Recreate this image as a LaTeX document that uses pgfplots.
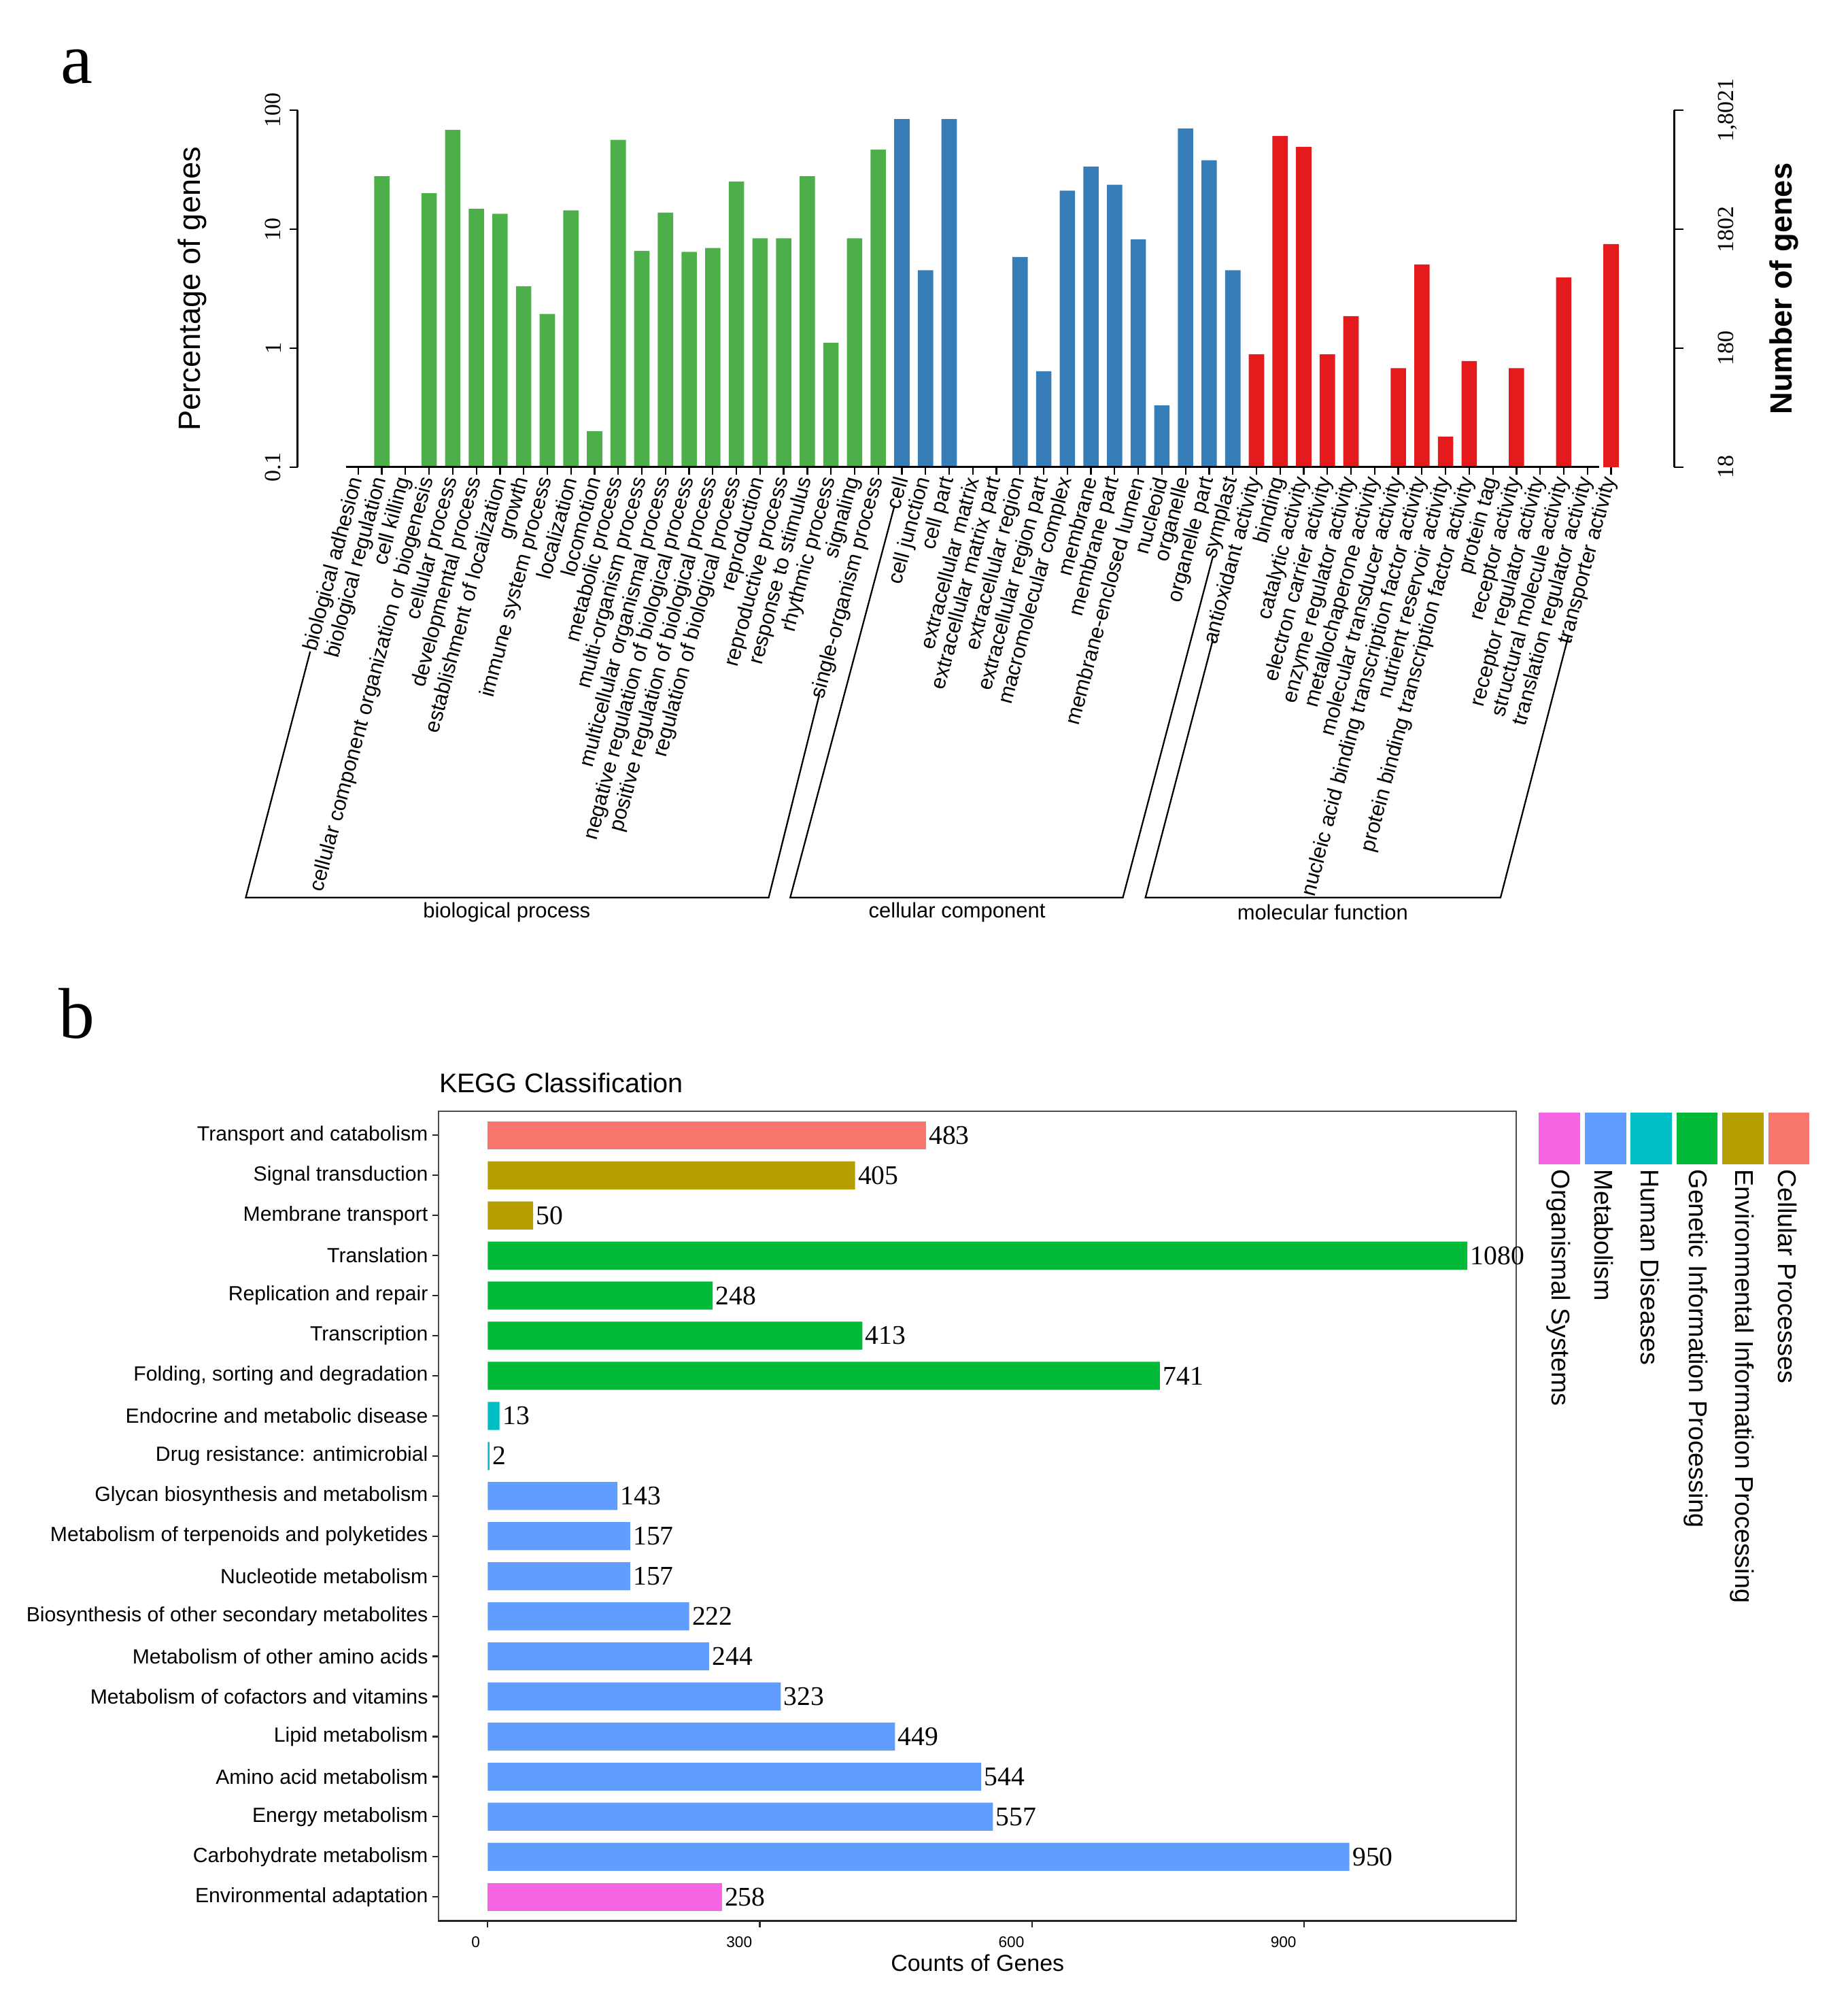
\documentclass[border=0pt]{standalone}
\usepackage{fontspec}
\setmainfont{Liberation Sans}
\newfontfamily\serif{Liberation Serif}
\usepackage{pgfplots}
\pgfplotsset{compat=1.18}

\definecolor{gogreen}{HTML}{4DAF4A}
\definecolor{goblue}{HTML}{377EB8}
\definecolor{gored}{HTML}{E41A1C}
\definecolor{kcell}{HTML}{F8766D}
\definecolor{kenv}{HTML}{B79F00}
\definecolor{kgen}{HTML}{00BA38}
\definecolor{khum}{HTML}{00BFC4}
\definecolor{kmet}{HTML}{619CFF}
\definecolor{korg}{HTML}{F564E3}

\begin{document}
\begin{tikzpicture}
\path[use as bounding box] (0,0) rectangle (720pt,-783.6pt);

% ---------- panel a: GO classification ----------
\node[font=\serif\fontsize{28}{30}\selectfont] at (30pt,-26pt) {a};

\begin{axis}[
  at={(116pt,-182pt)}, anchor=south west,
  scale only axis, width=536.5pt, height=139pt,
  xmin=-1.562, xmax=56.67,
  ymode=log, ymin=0.1, ymax=100, log origin=infty,
  axis x line*=bottom, axis y line*=left,
  x axis line style={draw=none},
  y axis line style={line width=0.8pt},
  tick align=outside, major tick length=3pt,
  tick style={black, line width=0.6pt},
  yminorticks=false,
  xtick={1,...,54},
  xticklabels={biological adhesion, biological regulation, cell killing,
    cellular component organization or biogenesis, cellular process,
    developmental process, establishment of localization, growth,
    immune system process, localization, locomotion, metabolic process,
    multi-organism process, multicellular organismal process,
    negative regulation of biological process,
    positive regulation of biological process,
    regulation of biological process, reproduction, reproductive process,
    response to stimulus, rhythmic process, signaling,
    single-organism process,
    cell, cell junction, cell part, extracellular matrix,
    extracellular matrix part, extracellular region,
    extracellular region part, macromolecular complex, membrane,
    membrane part, membrane-enclosed lumen, nucleoid, organelle,
    organelle part, symplast,
    antioxidant activity, binding, catalytic activity,
    electron carrier activity, enzyme regulator activity,
    metallochaperone activity, molecular transducer activity,
    nucleic acid binding transcription factor activity,
    nutrient reservoir activity,
    protein binding transcription factor activity, protein tag,
    receptor activity, receptor regulator activity,
    structural molecule activity, translation regulator activity,
    transporter activity},
  xticklabel style={rotate=75, anchor=east, inner sep=1pt,
    font=\fontsize{8.2}{9}\selectfont},
  ytick={0.1,1,10,100}, yticklabels={0.1,1,10,100},
  yticklabel style={rotate=90, anchor=south,
    font=\serif\fontsize{9}{10}\selectfont},
  ylabel={Percentage of genes},
  ylabel style={at={(axis description cs:-0.0764,0.5)}, anchor=center,
    font=\fontsize{12}{14}\selectfont},
  ybar, bar width=0.65,
  clip=false,
]
\addplot[fill=gogreen, draw=none, bar shift=0pt] coordinates {
  (2,27.9) (4,20.1) (5,68.7) (6,14.9) (7,13.5) (8,3.32) (9,1.94)
  (10,14.4) (11,0.20) (12,56.6) (13,6.58) (14,13.8) (15,6.45)
  (16,6.96) (17,25.2) (18,8.4) (19,8.4) (20,27.9) (21,1.11)
  (22,8.4) (23,46.9)
};
\addplot[fill=goblue, draw=none, bar shift=0pt] coordinates {
  (24,84.5) (25,4.52) (26,84.5) (29,5.84) (30,0.64) (31,21.1)
  (32,33.7) (33,23.7) (34,8.24) (35,0.33) (36,70.4) (37,38.1)
  (38,4.52)
};
\addplot[fill=gored, draw=none, bar shift=0pt] coordinates {
  (39,0.89) (40,61.0) (41,49.3) (42,0.89) (43,1.86) (45,0.68)
  (46,5.06) (47,0.18) (48,0.78) (50,0.68) (52,3.94) (54,7.5)
};
\draw[line width=0.8pt] (axis cs:0.5,0.1) -- (axis cs:53.5,0.1);
\end{axis}

\begin{axis}[
  at={(116pt,-182pt)}, anchor=south west,
  scale only axis, width=536.5pt, height=139pt,
  xmin=-1.562, xmax=56.67,
  ymode=log, ymin=0.1, ymax=100,
  axis x line=none, axis y line*=right,
  y axis line style={line width=0.8pt},
  tick align=outside, major tick length=3.5pt,
  tick style={black, line width=0.6pt},
  yminorticks=false,
  ytick={0.1,1,10,100}, yticklabels={18,180,1802,{1,8021}},
  yticklabel style={rotate=90, anchor=north,
    font=\serif\fontsize{9}{10}\selectfont},
  yticklabel shift=10pt,
  ylabel={Number of genes},
  ylabel style={at={(axis description cs:1.080,0.5)}, anchor=center,
    font=\bfseries\fontsize{12}{14}\selectfont},
]
\end{axis}

% group brackets
\draw[line width=0.6pt] (120.9pt,-253.85pt) -- (95.8pt,-349.7pt)
  -- (299.6pt,-349.7pt) -- (319.4pt,-270.4pt);
\draw[line width=0.6pt] (348.65pt,-197pt) -- (308pt,-349.7pt)
  -- (437.65pt,-349.7pt) -- (472.8pt,-216.6pt);
\draw[line width=0.6pt] (472.8pt,-249pt) -- (446.45pt,-349.7pt)
  -- (584.85pt,-349.7pt) -- (611.25pt,-247.95pt);
\node[font=\fontsize{8.2}{9}\selectfont] at (197.5pt,-355.5pt) {biological process};
\node[font=\fontsize{8.2}{9}\selectfont] at (373pt,-355.5pt) {cellular component};
\node[font=\fontsize{8.2}{9}\selectfont] at (515.5pt,-355.5pt) {molecular function};

% ---------- panel b: KEGG classification ----------
\node[font=\serif\fontsize{28}{30}\selectfont] at (30pt,-395pt) {b};

\begin{axis}[
  at={(171pt,-748.5pt)}, anchor=south west,
  scale only axis, width=420pt, height=315.5pt,
  xmin=-54, xmax=1134, ymin=0.4, ymax=20.6,
  xbar, bar width=0.7,
  axis line style={gray!60!black, line width=0.6pt},
  tick align=outside, major tick length=2.5pt,
  tick style={gray!30!black, line width=0.6pt},
  xtick pos=lower, ytick pos=left,
  xtick={0,300,600,900}, xticklabels={0,300,600,900},
  xticklabel style={font=\fontsize{6}{7}\selectfont, anchor=north east,
    xshift=0.5pt},
  ytick={1,...,20},
  yticklabels={Environmental adaptation, Carbohydrate metabolism,
    Energy metabolism, Amino acid metabolism, Lipid metabolism,
    Metabolism of cofactors and vitamins, Metabolism of other amino acids,
    Biosynthesis of other secondary metabolites, Nucleotide metabolism,
    Metabolism of terpenoids and polyketides,
    Glycan biosynthesis and metabolism, Drug resistance: antimicrobial,
    Endocrine and metabolic disease, {Folding, sorting and degradation},
    Transcription, Replication and repair, Translation,
    Membrane transport, Signal transduction, Transport and catabolism},
  yticklabel style={font=\fontsize{8}{9}\selectfont, inner sep=1.5pt},
  point meta=x,
  /pgf/number format/assume math mode=true,
  /pgf/number format/1000 sep={},
  nodes near coords,
  nodes near coords style={font=\serif\fontsize{10.5}{12}\selectfont,
    anchor=west, inner sep=1pt, black},
  title={KEGG Classification},
  title style={at={(axis description cs:0,1)}, anchor=south west,
    inner sep=0pt, yshift=1pt, font=\fontsize{10.5}{12}\selectfont},
  xlabel={Counts of Genes},
  xlabel style={at={(axis description cs:0.5,-0.0523)}, anchor=center,
    font=\fontsize{9}{10}\selectfont},
  clip=false,
]
\addplot[fill=korg, draw=none, bar shift=0pt] coordinates {(258,1)};
\addplot[fill=kmet, draw=none, bar shift=0pt] coordinates {
  (950,2) (557,3) (544,4) (449,5) (323,6) (244,7) (222,8) (157,9)
  (157,10) (143,11)
};
\addplot[fill=khum, draw=none, bar shift=0pt] coordinates {(2,12) (13,13)};
\addplot[fill=kgen, draw=none, bar shift=0pt] coordinates {
  (741,14) (413,15) (248,16) (1080,17)
};
\addplot[fill=kenv, draw=none, bar shift=0pt] coordinates {(50,18) (405,19)};
\addplot[fill=kcell, draw=none, bar shift=0pt] coordinates {(483,20)};
\draw[line width=1pt, black!85] (rel axis cs:0,0) -- (rel axis cs:1,0);
\end{axis}

% legend
\foreach \c/\x/\t in {korg/599.75/Organismal Systems,
                      kmet/617.65/Metabolism,
                      khum/635.5/Human Diseases,
                      kgen/653.35/Genetic Information Processing,
                      kenv/671.25/Environmental Information Processing,
                      kcell/689.15/Cellular Processes} {
  \fill[\c] (\x pt,-433.45pt) rectangle ++(16.1pt,-20.1pt);
  \node[rotate=-90, anchor=west, inner sep=0pt,
        font=\fontsize{10}{12}\selectfont] at (\x pt+7.6pt,-455.5pt) {\t};
}
\end{tikzpicture}
\end{document}
